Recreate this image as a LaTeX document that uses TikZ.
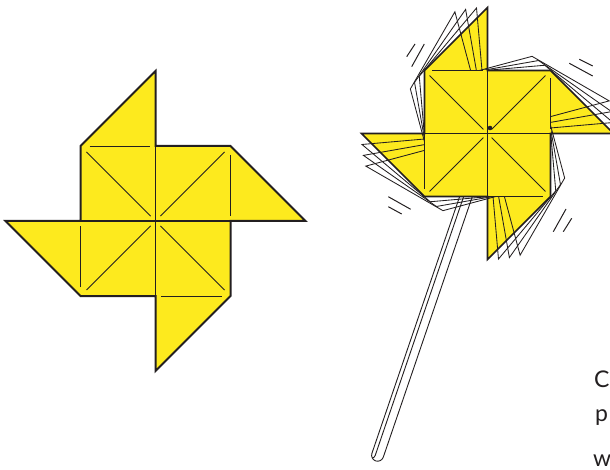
\documentclass[tikz,border=0pt]{standalone}
\usepackage{fontspec}
\setmainfont{Lato}
\definecolor{petal}{RGB}{253,234,30}
\definecolor{ink}{RGB}{35,31,32}

% Windmill drawn in unit coordinates: square of half-side 1, four blades.
\newcommand{\vanefill}{%
  \fill[petal] (-1,-1) -- (0,-2) -- (0,-1) -- (1,-1) -- (2,0) -- (1,0) -- (1,1)
    -- (0,2) -- (0,1) -- (-1,1) -- (-2,0) -- (-1,0) -- cycle;}
\newcommand{\vaneedge}[1]{%
  \draw[#1] (-1,-1) -- (0,-2) -- (0,-1) -- (1,-1) -- (2,0) -- (1,0) -- (1,1)
    -- (0,2) -- (0,1) -- (-1,1) -- (-2,0) -- (-1,0) -- cycle;}
\newcommand{\vanefolds}{%
  \foreach \r in {0,-90,-180,-270}{%
    \begin{scope}[rotate=\r]
      \draw[fold] (-0.92,-0.92) -- (-0.065,-0.065);
      \draw[fold] (-0.88,-1) -- (-0.07,-1);
    \end{scope}}
  \draw[cross] (0,-1) -- (0,1) (-1,0) -- (1,0);}

\tikzset{
  fold/.style={draw=ink, line width=0.9pt},
  cross/.style={draw=ink, line width=1.1pt},
  ghost/.style={draw=ink, line width=0.85pt, line join=miter},
  stickline/.style={draw=ink, line width=0.9pt},
  swish/.style={draw=ink, line width=1pt},
  label/.style={anchor=base west, inner sep=0pt, text=ink, font=\fontsize{23}{23}\selectfont},
}

\begin{document}
\begin{tikzpicture}[x=1pt, y=-1pt, line join=miter]
\useasboundingbox (0,0) rectangle (610,470);

% flat windmill
\begin{scope}[shift={(155.5,221)}, scale=75]
  \vanefill
  \vanefolds
  \vaneedge{draw=ink, line width=2pt}
\end{scope}

% stick behind the spinning windmill
\begin{scope}[shift={(487.5,133.5)}, rotate=-18.86]
  \draw[stickline, fill=white] (-6,0) -- (-6,340) arc[start angle=180, end angle=0, radius=6] -- (6,0);
  \draw[stickline] (-2.2,0) -- (-2.2,341) .. controls (-2.2,343) and (-3.2,344.3) .. (-4.24,344.24);
\end{scope}

% spinning windmill with trailing outlines
\begin{scope}[shift={(487.5,133.5)}, scale=63]
  \vanefill
  \foreach \g in {5,10,15}{%
    \begin{scope}[rotate=\g]
      \vaneedge{ghost}
    \end{scope}}
  \fill[petal] (-1,-1) rectangle (1,1);
  \vanefolds
  \vaneedge{draw=ink, line width=1.6pt}
\end{scope}
\fill[ink] (490,128) circle[radius=2.3];

% motion strokes
\draw[swish] (406.7,56.7) -- (415,44) (411.7,66.7) -- (424.3,44);
\draw[swish] (579.3,59.3) -- (592.7,66) (569.3,63.3) -- (592.7,76);
\draw[swish] (388.3,196.7) -- (410.7,209.3) (388.3,206.7) -- (401.7,214);
\draw[swish] (566,209) -- (553.3,231.7) (571.7,218.3) -- (563.3,231.7);

% text at the right edge
\node[label] (t1) at (594,387) {C};
\node[label] (t2) at (595,421) {p};
\node[label] (t3) at (593,466) {w};
\end{tikzpicture}
\end{document}
